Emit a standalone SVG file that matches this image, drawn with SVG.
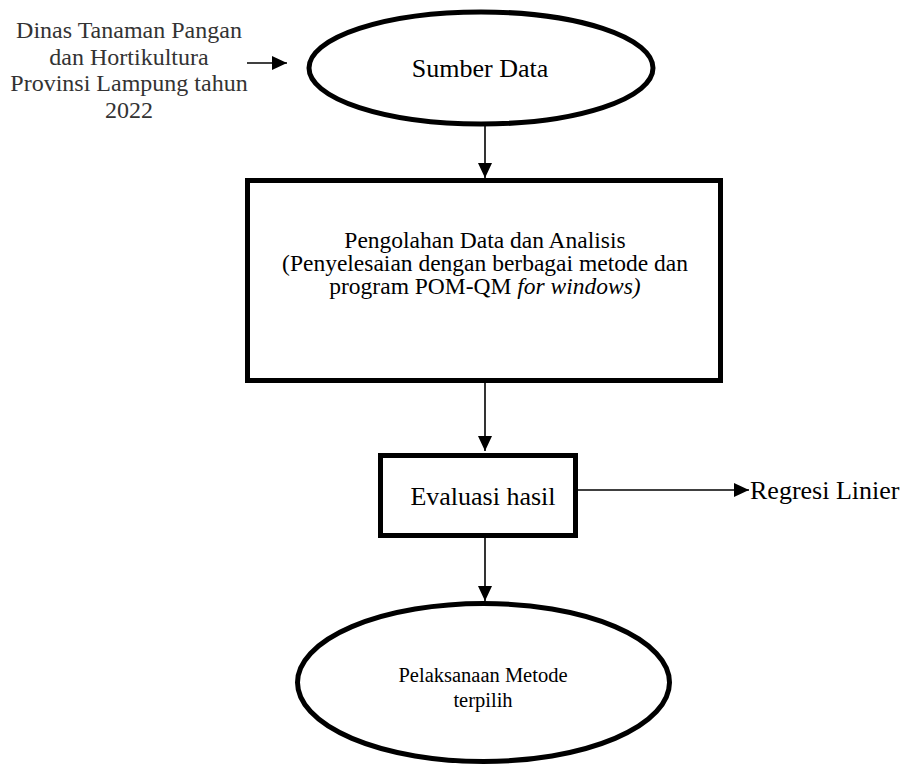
<svg xmlns="http://www.w3.org/2000/svg" width="909" height="766" viewBox="0 0 909 766">
<style>
  text { font-family: "Liberation Serif", "Times New Roman", serif; fill: #000; }
  .shape { fill: #fff; stroke: #000; stroke-width: 5; }
  .conn { stroke: #000; stroke-width: 1.6; fill: none; }
  .src { fill: #333; font-size: 24px; }
</style>
<defs>
  <marker id="arrow" markerUnits="userSpaceOnUse" markerWidth="16" markerHeight="14" refX="15" refY="7" orient="auto">
    <path d="M0,0 L15,7 L0,14 Z" fill="#000"/>
  </marker>
</defs>
<rect width="909" height="766" fill="#fff"/>

<g id="connectors">
  <line class="conn" x1="247" y1="63" x2="287" y2="63" marker-end="url(#arrow)"/>
  <line class="conn" x1="485" y1="126" x2="485" y2="178" marker-end="url(#arrow)"/>
  <line class="conn" x1="485" y1="383" x2="485" y2="451" marker-end="url(#arrow)"/>
  <line class="conn" x1="578" y1="490" x2="749" y2="490" marker-end="url(#arrow)"/>
  <line class="conn" x1="485" y1="538" x2="485" y2="601" marker-end="url(#arrow)"/>
</g>

<g id="source-label">
  <text class="src" text-anchor="middle" x="129" y="38">Dinas Tanaman Pangan</text>
  <text class="src" text-anchor="middle" x="129" y="64.5">dan Hortikultura</text>
  <text class="src" text-anchor="middle" x="129" y="91">Provinsi Lampung tahun</text>
  <text class="src" text-anchor="middle" x="129" y="117.5">2022</text>
</g>

<g id="sumber-data">
  <ellipse class="shape" cx="481" cy="68" rx="172" ry="56"/>
  <text x="480" y="77" text-anchor="middle" font-size="26">Sumber Data</text>
</g>

<g id="pengolahan">
  <rect class="shape" x="247.5" y="180.5" width="473" height="200"/>
  <text x="485" y="248" text-anchor="middle" font-size="23.5">Pengolahan Data dan Analisis</text>
  <text x="485" y="271" text-anchor="middle" font-size="23.5">(Penyelesaian dengan berbagai metode dan</text>
  <text x="485" y="294" text-anchor="middle" font-size="23.5">program POM-QM <tspan font-style="italic">for windows)</tspan></text>
</g>

<g id="evaluasi">
  <rect class="shape" x="380.5" y="455.5" width="195" height="80"/>
  <text x="483" y="505" text-anchor="middle" font-size="26">Evaluasi hasil</text>
</g>

<g id="regresi">
  <text x="750" y="499" font-size="26">Regresi Linier</text>
</g>

<g id="pelaksanaan">
  <ellipse class="shape" cx="483.5" cy="682.5" rx="186" ry="79"/>
  <text x="483" y="682" text-anchor="middle" font-size="20.5">Pelaksanaan Metode</text>
  <text x="483" y="707" text-anchor="middle" font-size="20.5">terpilih</text>
</g>
</svg>
